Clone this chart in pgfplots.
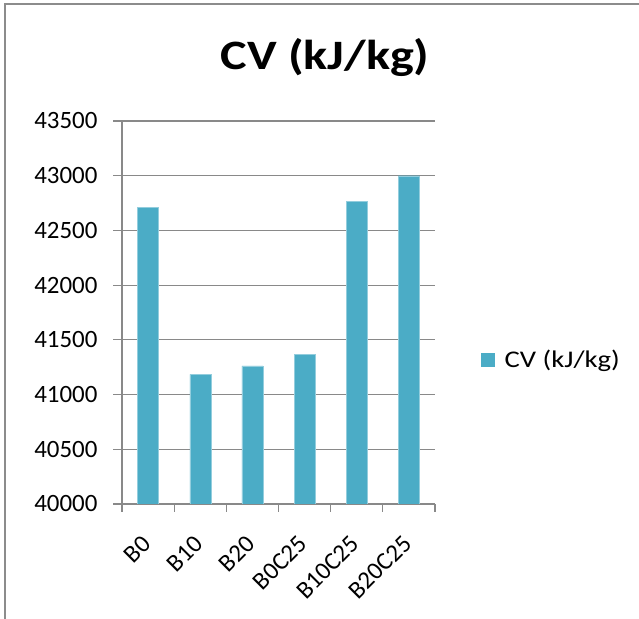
\documentclass[border=0pt]{standalone}
\usepackage{pgfplots}
\pgfplotsset{compat=1.18}
\usepackage{fontspec}
\setmainfont{Carlito}
\newfontfamily\widefont{Carlito}[FakeStretch=1.2]
\definecolor{barcol}{HTML}{4BACC6}
\definecolor{gridcol}{HTML}{898989}
\definecolor{framecol}{HTML}{8C8C8C}
\begin{document}
\begin{tikzpicture}[x=1bp,y=1bp]
\useasboundingbox (0,0) rectangle (639,619);
% chart area border
\draw[framecol, line width=1.5bp] (5,-2) -- (5,615) -- (641,615);
% chart title
\node[anchor=base, font=\widefont\fontsize{42}{48}\selectfont\bfseries, inner sep=0pt] at (325,549) {CV (kJ/kg)};
\begin{axis}[
  at={(122bp,115bp)}, anchor=south west,
  scale only axis, width=313bp, height=383bp,
  ymin=40000, ymax=43500, ytick distance=500,
  scaled y ticks=false,
  xmin=-0.5, xmax=5.5,
  xtick={0,...,5},
  xticklabels={B0,B10,B20,B0C25,B10C25,B20C25},
  minor xtick={-0.5,0.5,...,5.5},
  major x tick style={draw=none},
  minor tick length=8bp, major tick length=9bp,
  tick align=outside,
  axis x line*=bottom, axis y line*=left,
  axis line style={gridcol, line width=1.2bp, -},
  every tick/.style={gridcol, line width=1.2bp},
  ymajorgrids, grid style={gridcol, line width=1.2bp},
  /pgf/number format/.cd, 1000 sep={}, assume math mode=true,
  /pgfplots/.cd,
  ticklabel style={font=\fontsize{25}{28}\selectfont, color=black},
  yticklabel style={xshift=-12bp},
  xticklabel style={rotate=45, anchor=north east, yshift=-7.5bp, xshift=-18bp, inner sep=2bp},
  legend style={at={(1.147,0.377)}, anchor=west, draw=none, fill=none, inner sep=0pt,
    column sep=8bp, font=\widefont\fontsize{24}{28}\selectfont},
  legend image code/.code={\fill[barcol] (0bp,-6.5bp) rectangle (13bp,6.5bp);},
]
\addplot[ybar, bar width=21bp, fill=barcol, draw=barcol!60!white, bar shift=0pt]
  coordinates {(0,42710) (1,41185) (2,41262) (3,41365) (4,42768) (5,43000)};
\addlegendentry{CV (kJ/kg)}
\end{axis}
\end{tikzpicture}
\end{document}
